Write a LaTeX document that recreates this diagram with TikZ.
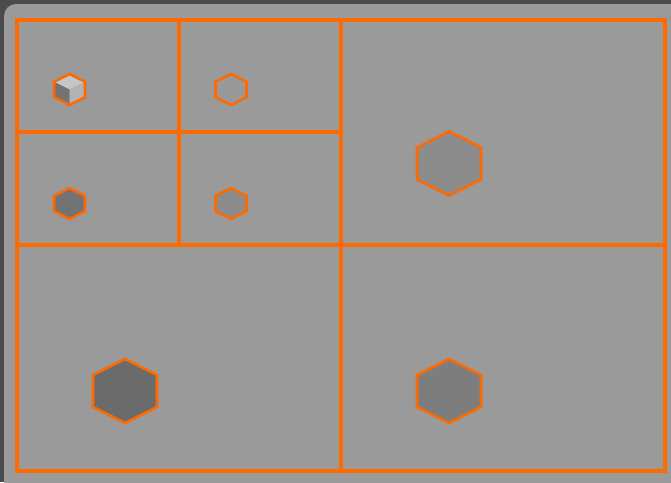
\documentclass[tikz,border=0pt]{standalone}
\definecolor{gridorange}{HTML}{FF6A00}
\definecolor{darkframe}{HTML}{4B4B4B}
\definecolor{panelgray}{HTML}{9A9A9A}
\definecolor{cubetop}{HTML}{C6C6C6}

\begin{document}
\begin{tikzpicture}[x=1pt,y=-1pt]
				
				\tikzset{cellline/.style={draw=gridorange,line width=3.6pt},
					hexline/.style={draw=gridorange,line width=2.6pt,line join=miter},
					pics/hexcell/.style args={#1/#2}{code={
							\path[hexline,fill=#2] (0,-#1) -- (#1,-#1/2) -- (#1,#1/2) -- (0,#1)
							-- (-#1,#1/2) -- (-#1,-#1/2) -- cycle;}}}
				
				% frame and panel
				\useasboundingbox (0,0) rectangle (671,482);
				\fill[darkframe] (0,0) rectangle (671,482);
				\begin{scope}
					\clip (0,0) rectangle (671,482);
					\fill[panelgray,rounded corners=12pt] (4,4) rectangle (690,500);
				\end{scope}
				
				% grid
				\draw[cellline] (17,20) rectangle (665,471);
				\draw[cellline] (179,20) -- (179,245);
				\draw[cellline] (341,20) -- (341,471);
				\draw[cellline] (17,132) -- (341,132);
				\draw[cellline] (17,245) -- (665,245);
				
				% small cells
				\coordinate (h1) at (69.5,89.5);
				\coordinate (h2) at (231,89.5);
				\coordinate (h3) at (69.5,203.5);
				\coordinate (h4) at (231,203.5);
				\fill[cubetop] (69.5,74) -- (85,81.75) -- (69.5,89.5) -- (54,81.75) -- cycle;
				\fill[black!55] (54,81.75) -- (69.5,89.5) -- (69.5,105) -- (54,97.25) -- cycle;
				\fill[black!30] (69.5,89.5) -- (85,81.75) -- (85,97.25) -- (69.5,105) -- cycle;
				\pic at (h1) {hexcell={15.5/none}};
				\pic at (h2) {hexcell={15.5/black!40}};
				\pic at (h3) {hexcell={15.5/black!55}};
				\pic at (h4) {hexcell={15.5/black!45}};
				
				% big cells
				\coordinate (h5) at (449,163.5);
				\coordinate (h6) at (125,391);
				\coordinate (h7) at (449,391);
				\pic at (h5) {hexcell={32/black!45}};
				\pic at (h6) {hexcell={32/black!58}};
				\pic at (h7) {hexcell={32/black!51}};
				
			\end{tikzpicture}
\end{document}
